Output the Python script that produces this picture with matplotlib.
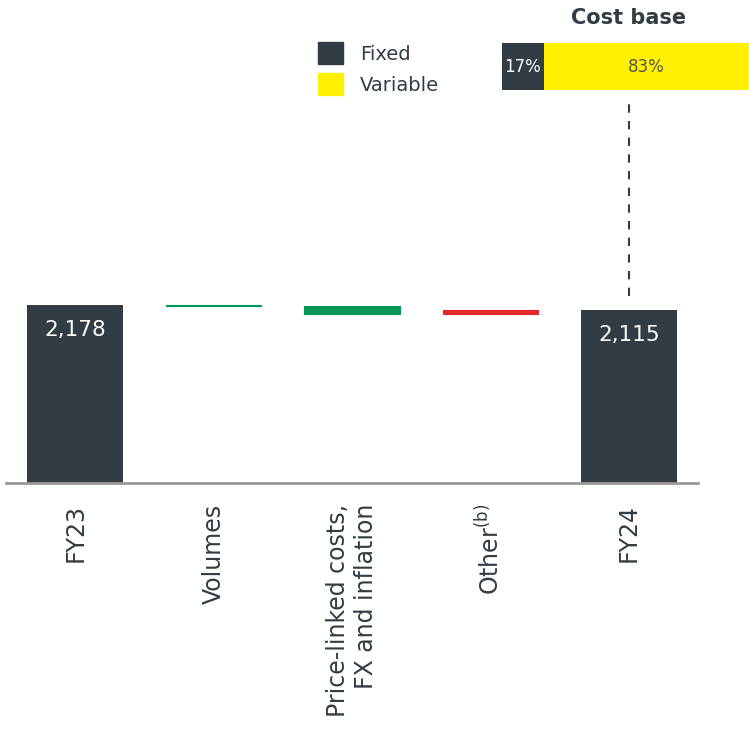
import matplotlib.pyplot as plt
from matplotlib.patches import Patch

plt.rcParams['font.family'] = ['DejaVu Sans']

categories = ['FY23', 'Volumes', 'Price-linked costs,\nFX and inflation', 'Other$^{\\mathrm{(b)}}$', 'FY24']
values = [2178, -10, -108, 55, 2115]
kinds = ['total', 'delta', 'delta', 'delta', 'total']
cost_split = [17, 83]
cost_labels = ['Fixed', 'Variable']

dark = '#323c44'
yellow = '#fff100'
green = '#00965a'
red = '#e5262a'

fig = plt.figure(figsize=(7.49, 7.39), dpi=100)
ax = fig.add_axes([6 / 749, (739 - 483) / 739, 692 / 749, 483 / 739])

running = 0
for i, (v, k) in enumerate(zip(values, kinds)):
    if k == 'total':
        ax.bar(i, v, width=0.69, color=dark)
        ax.text(i, v - 310, f'{v:,}', ha='center', va='center', color='white', fontsize=15.5)
        running = v
    else:
        col = green if v < 0 else red
        bottom = running + min(v, 0)
        ax.bar(i, abs(v), bottom=bottom, width=0.69, color=col, edgecolor=col, linewidth=0.8)
        running += v

ax.set_xlim(-0.5, 4.5)
ax.set_ylim(0, 5900)
ax.set_xticks(range(len(categories)))
ax.set_xticklabels(categories, rotation=90, fontsize=17, color=dark, multialignment='right')
ax.tick_params(axis='x', length=0, pad=15)
ax.set_yticks([])
for s in ['top', 'right', 'left']:
    ax.spines[s].set_visible(False)
ax.spines['bottom'].set_color('#999999')
ax.spines['bottom'].set_linewidth(2)

# dashed connector to the cost base bar
ax.plot([4, 4], [values[-1] + 170, 4680], color=dark, linestyle=(0, (4, 4)), linewidth=1.5)

# cost base split
cax = fig.add_axes([502 / 749, (739 - 90) / 739, 247 / 749, 47 / 739])
cax.barh(0, cost_split[0], color=dark, height=1)
cax.barh(0, cost_split[1], left=cost_split[0], color=yellow, height=1)
cax.text(cost_split[0] / 2, 0, f'{cost_split[0]}%', ha='center', va='center', color='white', fontsize=12)
cax.text(cost_split[0] + cost_split[1] / 2, 0, f'{cost_split[1]}%', ha='center', va='center', color='#555555', fontsize=12)
cax.set_xlim(0, 100)
cax.set_ylim(-0.5, 0.5)
cax.axis('off')
fig.text(629 / 749, 1 - 18 / 739, 'Cost base', ha='center', va='center', fontsize=15, fontweight='bold', color=dark)

handles = [Patch(color=dark), Patch(color=yellow)]
fig.legend(handles, cost_labels, loc='upper left', bbox_to_anchor=(300 / 749, 1 - 25 / 739),
           frameon=False, fontsize=14, handlelength=1.3, handleheight=1.3, labelspacing=0.5,
           handletextpad=0.9, labelcolor=dark)

fig.savefig('out.png', dpi=100)
